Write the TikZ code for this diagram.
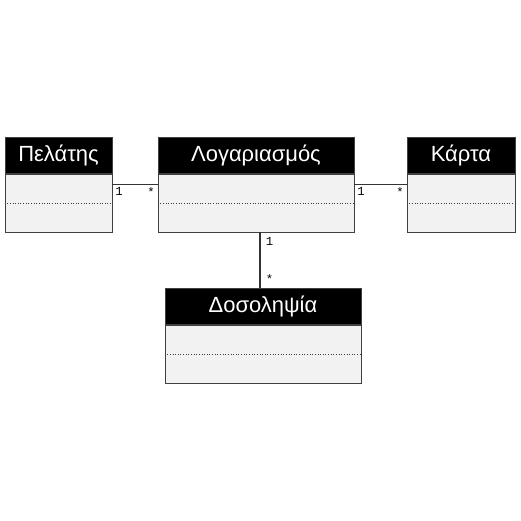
\documentclass[tikz,border=0pt]{standalone}
\usepackage{fontspec}
\setmainfont{Liberation Sans}
\setmonofont{Liberation Mono}
\usetikzlibrary{calc}
\definecolor{umlBody}{HTML}{F2F2F2}
\definecolor{umlEdge}{HTML}{404040}

\begin{document}
\begin{tikzpicture}[x=0.02cm, y=-0.02cm,
		classhead/.style={
			rectangle, draw=umlEdge, fill=black, text=white,
			font=\fontsize{12.5}{14}\selectfont, minimum height=0.72cm,
			inner sep=0pt, anchor=north
		},
		classbody/.style={
			rectangle, draw=umlEdge, fill=umlBody,
			minimum height=1.16cm, inner sep=0pt, anchor=north
		},
		divider/.style={densely dotted, umlEdge, line width=0.5pt},
		assoc/.style={draw=black!80, line width=0.6pt},
		mult/.style={font=\ttfamily\fontsize{7}{8}\selectfont, inner sep=1.5pt}
		]
		
		\useasboundingbox (0,0) rectangle (521,521);
		
		\node[classhead, minimum width=2.14cm] (pelh) at (58.5,137) {Πελάτης};
		\node[classbody, minimum width=2.14cm] (pelb) at (pelh.south) {};
		
		\node[classhead, minimum width=3.92cm] (logh) at (256,137) {Λογαριασμός};
		\node[classbody, minimum width=3.92cm] (logb) at (logh.south) {};
		
		\node[classhead, minimum width=2.16cm] (karh) at (461,137) {Κάρτα};
		\node[classbody, minimum width=2.16cm] (karb) at (karh.south) {};
		
		\node[classhead, minimum width=3.92cm] (dosh) at (263,288) {Δοσοληψία};
		\node[classbody, minimum width=3.92cm] (dosb) at (dosh.south) {};
		
		\draw[divider] (pelb.west) -- (pelb.east);
		\draw[divider] (logb.west) -- (logb.east);
		\draw[divider] (karb.west) -- (karb.east);
		\draw[divider] (dosb.west) -- (dosb.east);
		
		\coordinate (c1) at ($(pelb.north east)+(0,11)$);
		\coordinate (c2) at ($(logb.north east)+(0,11)$);
		\coordinate (c3) at (260,0 |- logb.south);
		
		\draw[assoc] (c1) -- (c1 -| logb.west);
		\draw[assoc] (c2) -- (c2 -| karb.west);
		\draw[assoc] (c3) -- (c3 |- dosh.north);
		
		\node[mult, anchor=north west] (m1) at (c1) {1};
		\node[mult, anchor=north east] (m2) at (c1 -| logb.west) {*};
		\node[mult, anchor=north west] (m3) at (c2) {1};
		\node[mult, anchor=north east] (m4) at (c2 -| karb.west) {*};
		\node[mult, anchor=north west] (m5) at ($(c3)+(3,2)$) {1};
		\node[mult, anchor=south west] (m6) at ($(c3 |- dosh.north)+(3,-2)$) {*};
		
	\end{tikzpicture}
\end{document}
